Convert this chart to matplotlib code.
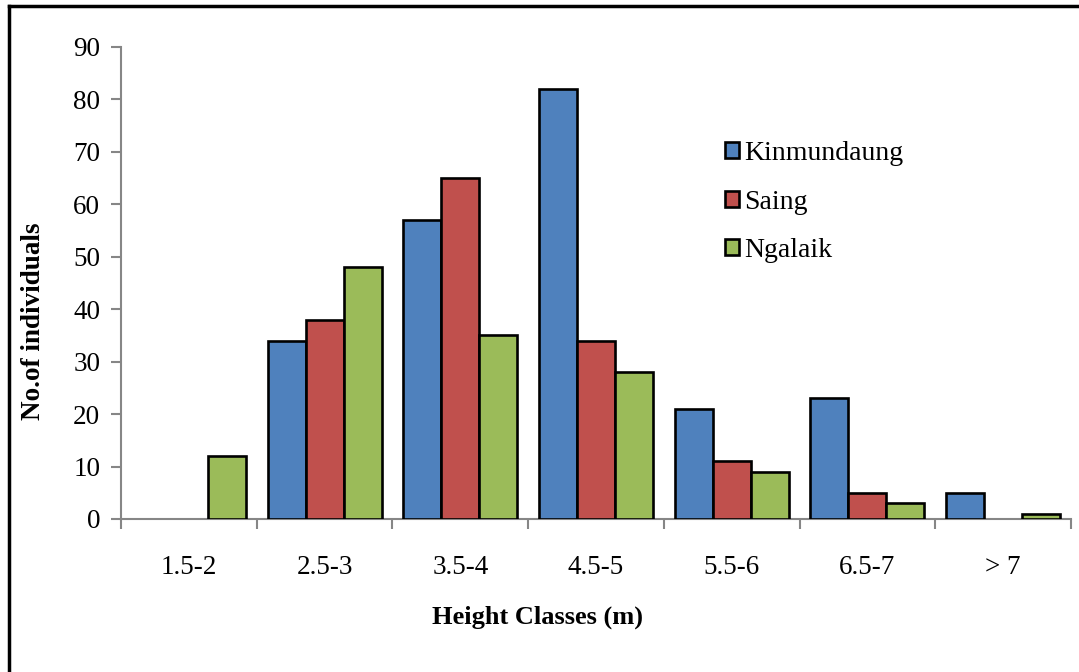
import numpy as np
import matplotlib
matplotlib.use("Agg")
import matplotlib.pyplot as plt
from matplotlib.lines import Line2D

plt.rcParams['font.family'] = ['Liberation Serif', 'DejaVu Serif']

categories = ["1.5-2", "2.5-3", "3.5-4", "4.5-5", "5.5-6", "6.5-7", "> 7"]
kinmundaung = [0, 34, 57, 82, 21, 23, 5]
saing = [0, 38, 65, 34, 11, 5, 0]
ngalaik = [12, 48, 35, 28, 9, 3, 1]

series = [("Kinmundaung", kinmundaung, "#4F81BD"),
          ("Saing", saing, "#C0504D"),
          ("Ngalaik", ngalaik, "#9BBB59")]

W, H = 1079, 672
fig = plt.figure(figsize=(W / 100, H / 100), dpi=100)
ax = fig.add_axes([121 / W, 1 - 519 / H, (1071 - 121) / W, (519 - 47) / H])

bar_w = 0.28
x = np.arange(len(categories))
for j, (name, vals, color) in enumerate(series):
    vals = np.asarray(vals, dtype=float)
    keep = vals > 0  # Excel shows nothing for zero bars
    ax.bar(x[keep] + (j - 1) * bar_w, vals[keep], width=bar_w, color=color,
           edgecolor='black', linewidth=1.9, zorder=3)
    # legend proxy
    ax.bar([np.nan], [np.nan], color=color, edgecolor='black', linewidth=1.9, label=name)

ax.set_xlim(-0.5, len(categories) - 0.5)
ax.set_ylim(0, 90)
ax.set_yticks(np.arange(0, 91, 10))
ax.set_xticks(x)
ax.set_xticklabels(categories)
ax.set_xticks(np.arange(-0.5, len(categories)), minor=True)
ax.tick_params(axis='x', which='major', length=0, pad=26, labelsize=19.5)
ax.tick_params(axis='x', which='minor', length=7, width=1.5, color='#868686', direction='out')
ax.tick_params(axis='y', length=7, width=1.5, color='#868686', direction='out', pad=8, labelsize=19.5)

for side in ['top', 'right']:
    ax.spines[side].set_visible(False)
for side in ['left', 'bottom']:
    ax.spines[side].set_color('#868686')
    ax.spines[side].set_linewidth(1.5)

fig.text(538 / W, 1 - 617 / H, "Height Classes (m)", fontsize=19, fontweight='bold',
         ha='center', va='center')
fig.text(34 / W, 1 - 321 / H, "No.of individuals", fontsize=19.5, fontweight='bold',
         ha='center', va='center', rotation=90)

fig.legend(loc='upper left', bbox_to_anchor=(725 / W, 1 - 141 / H), frameon=False,
           fontsize=20, handlelength=0.5, handleheight=0.5, handletextpad=0.2,
           labelspacing=0.85, borderpad=0, borderaxespad=0)

# chart border (only top and left edges fall inside the picture)
fig.add_artist(Line2D([9 / W, 1.0], [1 - 6 / H, 1 - 6 / H], transform=fig.transFigure,
                      color='black', linewidth=2.5))
fig.add_artist(Line2D([9 / W, 9 / W], [0.0, 1 - 6 / H], transform=fig.transFigure,
                      color='black', linewidth=2.5))

fig.savefig("out.png", dpi=100)
